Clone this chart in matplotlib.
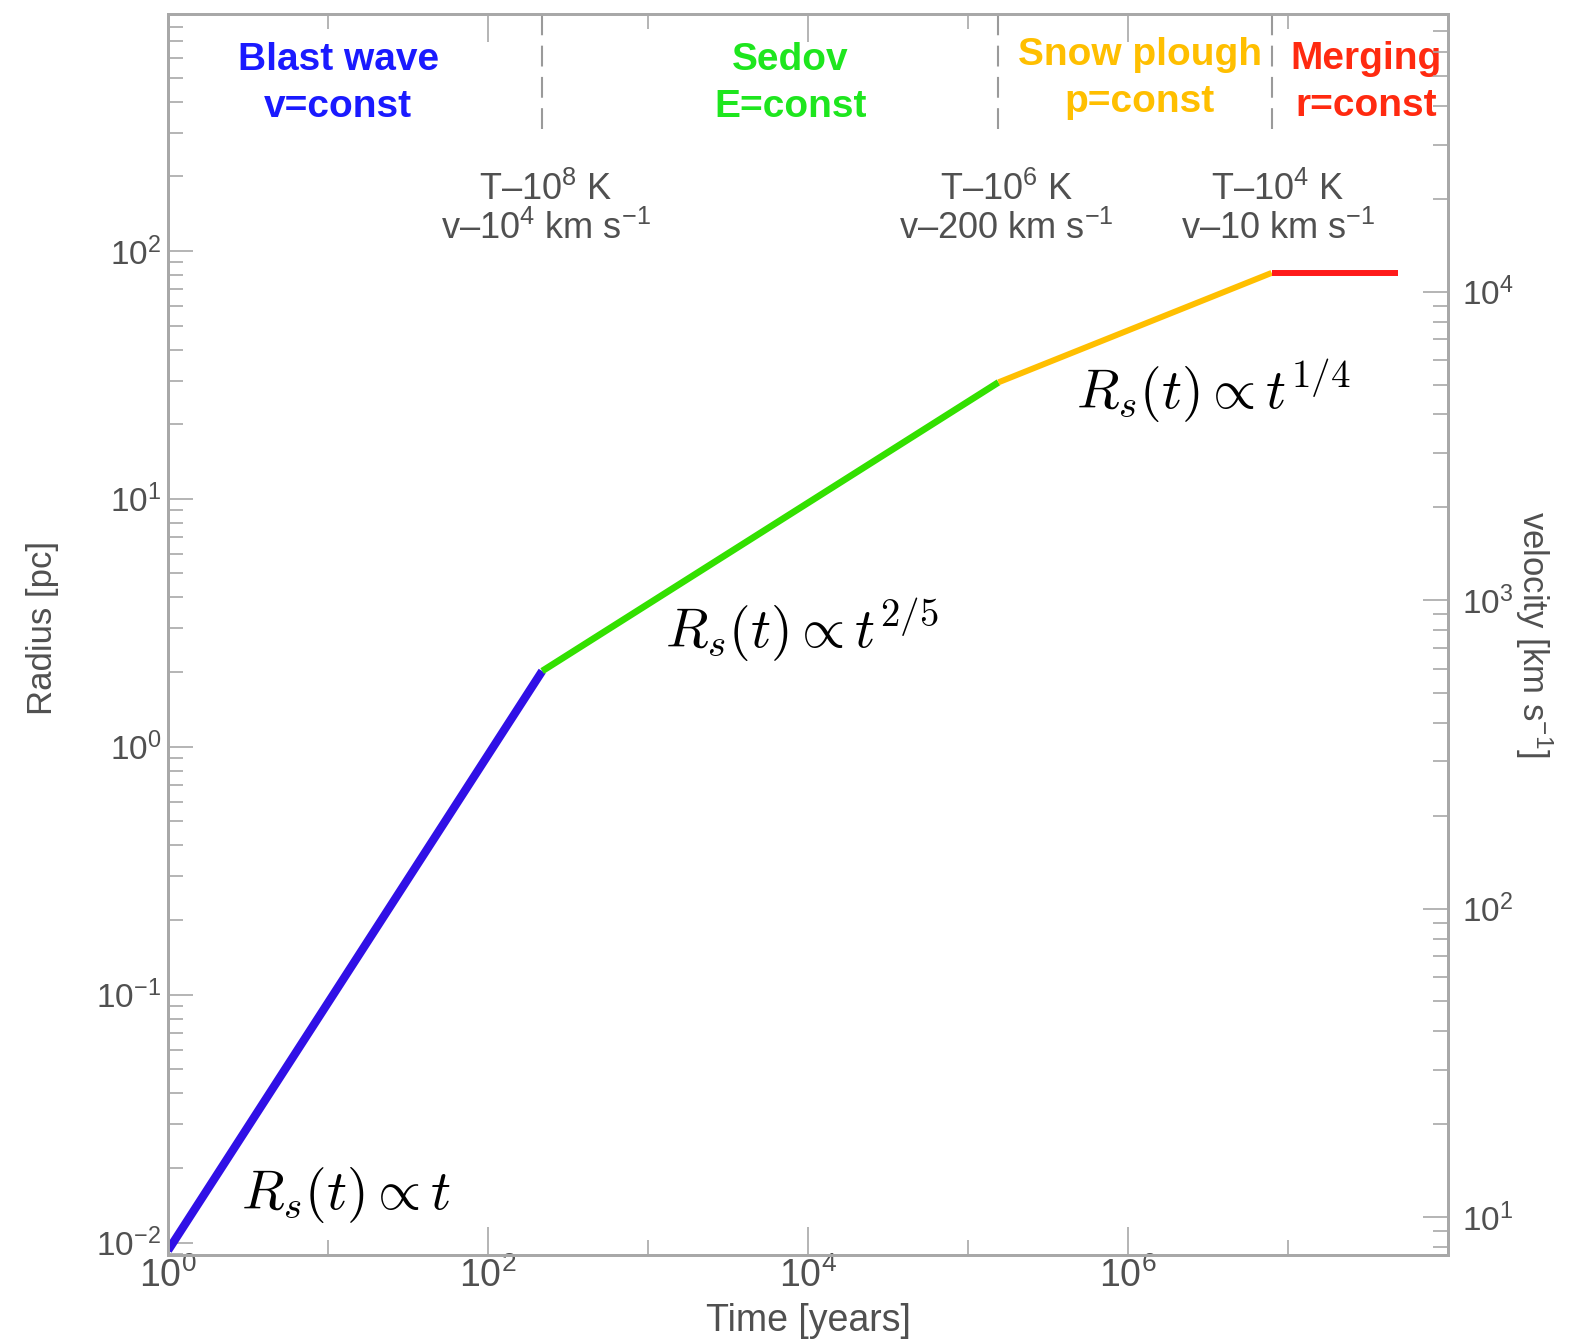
import numpy as np
import matplotlib
matplotlib.use("Agg")
import matplotlib.pyplot as plt
from matplotlib.ticker import FixedLocator, FuncFormatter, LogLocator, NullFormatter

plt.rcParams['font.family'] = ['Liberation Sans', 'DejaVu Sans']
plt.rcParams['mathtext.fontset'] = 'custom'
plt.rcParams['mathtext.rm'] = 'Liberation Sans'
plt.rcParams['mathtext.it'] = 'Liberation Sans:italic'
plt.rcParams['mathtext.bf'] = 'Liberation Sans:bold'
plt.rcParams['mathtext.sf'] = 'Liberation Sans'

# radius evolution of a supernova remnant (time in years, radius in pc)
t_blast = [1.0, 218.0]
r_blast = [0.0093, 2.02]
t_sedov = [218.0, 1.55e5]
r_sedov = [2.02, 29.5]
t_snow = [1.55e5, 7.9e6]
r_snow = [29.5, 81.5]
t_merge = [7.9e6, 4.9e7]
r_merge = [81.5, 81.5]

t_transition = [218.0, 1.55e5, 7.9e6]

phase_names = ["Blast wave\nv=const", "Sedov\nE=const", "Snow plough\np=const", "Merging\nr=const"]
phase_colors = ["#1a1aff", "#1ee61e", "#ffbf00", "#ff2a10"]
line_colors = ["#3010e6", "#33e000", "#ffbf00", "#ff1a1a"]
cond_labels = ["T\u201310$^{8}$ K\nv\u201310$^{4}$ km s$^{-1}$",
               "T\u201310$^{6}$ K\nv\u2013200 km s$^{-1}$",
               "T\u201310$^{4}$ K\nv\u201310 km s$^{-1}$"]
laws = [r"$R_s(t) \propto t$", r"$R_s(t) \propto t^{2/5}$", r"$R_s(t) \propto t^{1/4}$"]

xlim = (1.0, 1e8)
ylim = (10**-2.05, 10**2.955)
vlim = (10**0.877, 10**4.90)

frame = "#a8a8a8"
txt = "#505050"

fig = plt.figure(figsize=(15.93, 13.41), dpi=100)
ax = fig.add_axes([0.1055, 0.0641, 0.8035, 0.9254])

ax.plot(t_blast, r_blast, color=line_colors[0], lw=6.0, solid_capstyle='butt')
ax.plot(t_sedov, r_sedov, color=line_colors[1], lw=4.8, solid_capstyle='butt')
ax.plot(t_snow, r_snow, color=line_colors[2], lw=4.3, solid_capstyle='butt')
ax.plot(t_merge, r_merge, color=line_colors[3], lw=4.3, solid_capstyle='butt')

for tt in t_transition:
    ax.axvline(tt, ymin=0.907, ymax=1.0, color="#9a9a9a", lw=1.5, dashes=(10, 5))

ax.set_xscale('log')
ax.set_yscale('log')
ax.set_xlim(*xlim)
ax.set_ylim(*ylim)

# x ticks: long ones labelled on even decades, short ones on odd decades
ax.xaxis.set_major_locator(FixedLocator([1, 1e2, 1e4, 1e6]))
ax.xaxis.set_minor_locator(FixedLocator([1e1, 1e3, 1e5, 1e7]))
ax.xaxis.set_major_formatter(FuncFormatter(lambda v, p: r"$10^{%d}$" % round(np.log10(v))))
ax.xaxis.set_minor_formatter(NullFormatter())
ax.yaxis.set_major_locator(LogLocator(base=10, numticks=10))
ax.yaxis.set_minor_locator(LogLocator(base=10, subs=np.arange(2, 10), numticks=20))
ax.yaxis.set_major_formatter(FuncFormatter(lambda v, p: r"$10^{%d}$" % round(np.log10(v))))
ax.yaxis.set_minor_formatter(NullFormatter())

ax.tick_params(axis='x', which='both', direction='in', top=True, bottom=True, colors=frame,
               labelcolor=txt, labelsize=27, width=1.2, pad=2)
ax.tick_params(axis='x', which='major', length=20)
ax.tick_params(axis='x', which='minor', length=11)
ax.tick_params(axis='y', which='both', direction='in', left=True, right=False, colors=frame,
               labelcolor=txt, labelsize=24, width=1.2, pad=5)
ax.tick_params(axis='y', which='major', length=18)
ax.tick_params(axis='y', which='minor', length=11)

for s in ax.spines.values():
    s.set_color(frame)
    s.set_linewidth(2.0)

ax2 = ax.twinx()
ax2.set_yscale('log')
ax2.set_ylim(*vlim)
ax2.yaxis.set_major_locator(LogLocator(base=10, numticks=10))
ax2.yaxis.set_minor_locator(LogLocator(base=10, subs=np.arange(2, 10), numticks=20))
ax2.yaxis.set_major_formatter(FuncFormatter(lambda v, p: r"$10^{%d}$" % round(np.log10(v))))
ax2.yaxis.set_minor_formatter(NullFormatter())
ax2.tick_params(axis='y', which='both', direction='in', colors=frame, labelcolor=txt,
                labelsize=24, width=1.2, pad=10)
ax2.tick_params(axis='y', which='major', length=18)
ax2.tick_params(axis='y', which='minor', length=11)
for s in ax2.spines.values():
    s.set_color(frame)
    s.set_linewidth(2.0)

ax.set_xlabel("Time [years]", fontsize=27, color=txt)
ax.xaxis.set_label_coords(0.5, -0.039)
ax.set_ylabel("Radius [pc]", fontsize=25, color=txt)
ax.yaxis.set_label_coords(-0.085, 0.505)
ax2.set_ylabel(r"velocity [km s$^{-1}$]", fontsize=25, color=txt, rotation=270, va='center')
ax2.yaxis.set_label_coords(1.067, 0.50)

# phase names
phase_x = [0.133, 0.486, 0.759, 0.936]
phase_y = [0.944, 0.944, 0.948, 0.945]
for name, col, px, py in zip(phase_names, phase_colors, phase_x, phase_y):
    ax.text(px, py, name, transform=ax.transAxes, ha='center', va='center',
            fontsize=28, fontweight='bold', color=col, linespacing=1.4)

cond_x = [0.295, 0.655, 0.867]
for lab, cx in zip(cond_labels, cond_x):
    ax.text(cx, 0.843, lab, transform=ax.transAxes, ha='center', va='center',
            fontsize=26, color=txt, linespacing=1.1)

law_pos = [(0.057, 0.037), (0.388, 0.489), (0.709, 0.682)]
for law, (lx, ly) in zip(laws, law_pos):
    ax.text(lx, ly, law, transform=ax.transAxes, ha='left', va='baseline',
            fontsize=40, color='black', math_fontfamily='cm')

fig.savefig("out.png", dpi=100)
